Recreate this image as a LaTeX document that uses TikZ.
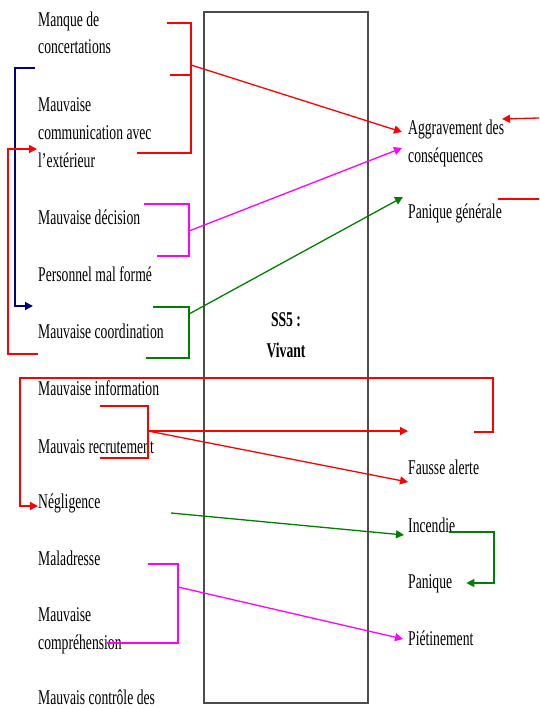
\documentclass[tikz,border=0pt]{standalone}
\usepackage{fontspec}
\setmainfont{Liberation Serif}[FakeStretch=0.65]
\usetikzlibrary{arrows.meta}
\definecolor{rouge}{RGB}{255,0,0}
\definecolor{rose}{RGB}{255,0,255}
\definecolor{vert}{RGB}{0,128,0}
\definecolor{bleu}{RGB}{0,0,128}
\begin{document}
\begin{tikzpicture}
    [x=1pt,y=-1pt,
    cause/.style={anchor=base west,inner sep=0pt,align=left,font=\fontsize{21}{28}\selectfont},
    effet/.style={cause},
    lien/.style={line width=1.3pt},
    fleche/.style={lien,->,>={Triangle[length=8pt,width=8pt]}}]

    \useasboundingbox (0,0) rectangle (539,709);
    %\draw[help lines,step=20] (0,0) grid (539,709);
    \node[draw=black!70,line width=1.3pt,minimum width=164,minimum height=691,inner sep=0pt] (boite) at (286,357.5) {};
    \node[anchor=base,align=center,font=\fontsize{21}{31}\selectfont\bfseries] (vivant) at (286,357) {SS5 :\\Vivant};

    % base = last line
    \node[cause] (manque) at (38,54) {Manque de\\concertations};
    \node[cause] (commext) at (38,167) {Mauvaise\\communication avec\\l'extérieur};
    \node[cause] (decision) at (38,224) {Mauvaise décision};
    \node[cause] (forme) at (38,281) {Personnel mal formé};
    \node[cause] (coord) at (38,338) {Mauvaise coordination};
    \node[cause] (info) at (38,395) {Mauvaise information};
    \node[cause] (recrut) at (38,453) {Mauvais recrutement};
    \node[cause] (neglig) at (38,508) {Négligence};
    \node[cause] (maladr) at (38,565) {Maladresse};
    \node[cause] (compr) at (38,649) {Mauvaise\\compréhension};
    \node[cause] (controle) at (38,704) {Mauvais contrôle des};

    \node[effet] (aggrav) at (408,162) {Aggravement des\\conséquences};
    \node[effet] (panigen) at (408,218) {Panique générale};
    \node[effet] (fausse) at (408,474) {Fausse alerte};
    \node[effet] (incend) at (408,532) {Incendie};
    \node[effet] (paniq) at (408,588) {Panique};
    \node[effet] (pietin) at (408,645) {Piétinement};

    \coordinate (r1) at (191,65);
    \coordinate (m1) at (189,231);
    \coordinate (v1) at (189,314);
    \coordinate (r2) at (148,431);
    \coordinate (m2) at (178,587);
    \coordinate (bleu0) at (35,68);
    \coordinate (rouge0) at (38,354);
    \coordinate (boucle0) at (474,432);
    \coordinate (vide) at (408,431);
    \coordinate (vert0) at (171,513);
    \coordinate (droite0) at (539,118);
    \coordinate (droite1) at (498,199);
    \coordinate (droite2) at (539,199);

    \draw[lien,rouge] (167,23) -| (191,153) -- (137,153);
    \draw[lien,rouge] (170,75) -- (191,75);
    \draw[lien,rose] (144,204) -| (189,256) -- (157,256);
    \draw[lien,vert] (153,307) -| (189,358) -- (146,358);
    \draw[lien,rouge] (100,406) -| (148,458) -- (100,458);
    \draw[lien,rose] (148,564) -| (178,643) -- (107,643);

    \draw[fleche,rouge] (r1) -- ([xshift=-6pt,yshift=30pt]aggrav.base west);
    \draw[fleche,rose] (m1) -- ([xshift=-6pt,yshift=14pt]aggrav.base west);
    \draw[fleche,vert] (v1) -- ([xshift=-5pt,yshift=21pt]panigen.base west);
    \draw[fleche,rouge] (droite0) -- ([xshift=94pt,yshift=43pt]aggrav.base west);
    \draw[lien,rouge] (droite1) -- (droite2);
    \draw[fleche,bleu] (bleu0) -| (15,306) -- ([yshift=32pt,xshift=-5pt]coord.base west);
    \draw[fleche,rouge] (rouge0) -| (8,149) -- ([yshift=18pt,xshift=-1pt]commext.base west);
    \draw[fleche,rouge] (boucle0) -- (493,432) |- (20,378) |- ([yshift=2pt]neglig.base west);
    \draw[fleche,rouge] (r2) -- (vide);
    \draw[fleche,rouge] (r2) -- ([yshift=-8pt]fausse.base west);
    \draw[fleche,vert] (vert0) -- ([xshift=-4pt,yshift=-3pt]incend.base west);
    \draw[fleche,vert] ([xshift=-6pt]incend.base east) -| (494,583) -- ([xshift=14pt,yshift=5pt]paniq.base east);
    \draw[fleche,rose] (m2) -- ([xshift=-5pt,yshift=6pt]pietin.base west);
\end{tikzpicture}
\end{document}
